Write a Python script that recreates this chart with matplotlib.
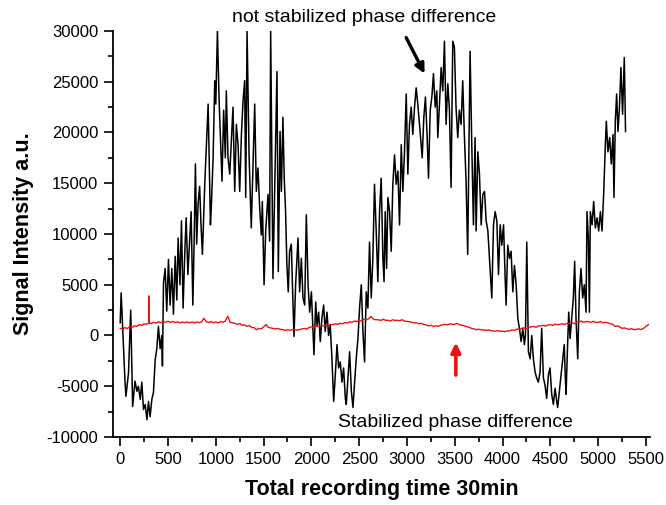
import matplotlib
matplotlib.use("Agg")
import matplotlib.pyplot as plt
from matplotlib.ticker import MultipleLocator

plt.rcParams['font.family'] = ['Liberation Sans', 'DejaVu Sans']
plt.rcParams['axes.unicode_minus'] = False

# ---- data ----
black_t = [0, 10, 50, 60, 87, 110, 130, 155, 175, 190, 210, 226, 244, 262, 280, 296, 313, 331,
           348, 366, 383, 400, 418, 435, 442, 453, 470, 487, 505, 522, 540, 557, 575, 592, 606,
           625, 641, 658, 675, 690, 708, 725, 742, 760, 775, 787, 800, 815, 831, 845, 860, 885,
           900, 920, 944, 954, 972, 989, 1000, 1017, 1035, 1048, 1065, 1082, 1100, 1110, 1128,
           1146, 1163, 1180, 1198, 1215, 1233, 1250, 1268, 1285, 1302, 1313, 1327, 1348, 1371,
           1390, 1407, 1424, 1441, 1459, 1476, 1487, 1505, 1522, 1546, 1563, 1574, 1598, 1616,
           1640, 1654, 1672, 1686, 1702, 1716, 1730, 1744, 1758, 1772, 1790, 1800, 1818, 1835,
           1860, 1877, 1895, 1912, 1930, 1947, 1965, 1982, 2000, 2017, 2027, 2045, 2059, 2076,
           2093, 2110, 2128, 2145, 2163, 2180, 2197, 2215, 2233, 2250, 2268, 2285, 2302, 2320,
           2337, 2355, 2365, 2383, 2400, 2418, 2435, 2452, 2469, 2487, 2504, 2522, 2539, 2556,
           2574, 2591, 2608, 2626, 2643, 2660, 2678, 2695, 2713, 2730, 2748, 2760, 2772, 2787,
           2800, 2818, 2835, 2852, 2870, 2887, 2905, 2922, 2940, 2957, 2974, 2992, 3009, 3026,
           3044, 3061, 3079, 3096, 3113, 3131, 3159, 3176, 3193, 3210, 3225, 3243, 3260, 3277,
           3295, 3312, 3322, 3340, 3357, 3374, 3392, 3409, 3427, 3444, 3461, 3479, 3496, 3513,
           3531, 3548, 3566, 3583, 3600, 3618, 3635, 3660, 3677, 3695, 3712, 3723, 3741, 3758,
           3776, 3793, 3811, 3828, 3846, 3863, 3887, 3905, 3922, 3940, 3957, 3975, 3992, 4010,
           4027, 4037, 4054, 4072, 4089, 4107, 4124, 4142, 4159, 4176, 4194, 4211, 4228, 4239,
           4253, 4270, 4288, 4305, 4322, 4340, 4357, 4374, 4392, 4409, 4427, 4444, 4461, 4479,
           4496, 4514, 4531, 4549, 4566, 4576, 4594, 4612, 4629, 4645, 4655, 4664, 4681, 4692,
           4706, 4723, 4740, 4754, 4768, 4786, 4803, 4820, 4838, 4855, 4873, 4883, 4897, 4908,
           4918, 4936, 4953, 4970, 4988, 5005, 5023, 5040, 5057, 5075, 5085, 5102, 5120, 5137,
           5155, 5165, 5179, 5193, 5207, 5221, 5238, 5255, 5273, 5286]
black_y = [1250, 4200, -4500, -6000, -3700, 2500, -7000, -4500, -5500, -5000, -6300, -4600,
           -7300, -6800, -8300, -6500, -8000, -6300, -5600, -2400, -1300, 900, -1300, 0, -3000,
           5200, 6600, 2400, 7500, 3000, 6600, 2100, 7800, 3500, 9600, 5000, 11300, 2700, 8000,
           11600, 6000, 9000, 12200, 3000, 10000, 16900, 9000, 13000, 14700, 11000, 8000, 15000,
           18300, 22800, 10900, 12900, 17500, 25100, 22800, 30000, 23100, 19800, 15200, 22200,
           17500, 24100, 17500, 15900, 19100, 22500, 14200, 20800, 18800, 14200, 19800, 23100,
           25100, 13600, 30000, 17800, 10600, 16900, 22800, 14200, 16500, 12600, 9900, 13200,
           5000, 10300, 13900, 9300, 30000, 5600, 14200, 26000, 6300, 20100, 14200, 21500, 15500,
           12200, 6900, 4300, 8300, 9000, 5600, -100, 5000, 9600, 4300, 7600, 3700, 3000, 11900,
           5000, 2300, 4300, 400, -1900, 3300, 1000, 2300, -600, 1700, 3000, 400, 2300, 0, 1000,
           -2300, -6500, -3900, -900, -3200, -2600, -4600, -3200, -6200, -6800, -4200, -1600,
           -5500, -7100, -4600, -2300, -300, 2700, 5000, 400, -2600, 4300, 2700, 9200, 3700,
           7600, 14900, 10300, 5300, 12200, 15500, 7600, 5300, 12200, 6600, 13600, 12200, 8300,
           14900, 17800, 14900, 16200, 10900, 18800, 14200, 18100, 23800, 15900, 20800, 22500,
           19800, 22500, 24400, 22800, 20800, 17500, 21500, 23500, 19800, 15500, 22200, 23500,
           25800, 22500, 24100, 19500, 22800, 26400, 24100, 29000, 20800, 24800, 22200, 14600,
           29000, 28400, 22500, 19500, 22200, 20800, 25100, 19800, 15200, 8000, 28000, 19100,
           10900, 19500, 10300, 18100, 15900, 10900, 13900, 14200, 11300, 10300, 7600, 3700,
           10900, 12200, 11300, 6000, 10900, 8900, 10900, 5600, 3000, 8900, 7600, 8300, 4300,
           6900, 5000, 1700, 700, -600, 700, -900, 0, 9200, -1600, -2300, 0, -2300, -3600,
           -4200, -4600, -3600, 700, -4200, -4900, -6200, -3900, -3200, -5800, -6800, -5200,
           -6500, -7100, -5500, -3900, -2300, -900, -3900, -5800, -600, 2300, -300, 1700, 3700,
           7300, 1700, -2300, 4300, 6600, 3700, 5000, 2300, 12200, 9600, 2300, 12200, 10900,
           13200, 10600, 11600, 10300, 12200, 10300, 13900, 18800, 21100, 18100, 19500, 16900,
           19800, 13600, 21100, 23800, 20100, 22200, 26400, 21800, 27400, 20100]

# red trace sampled every 25 time units (0 .. 5525)
red_t = list(range(0, 5550, 25))
red_y = [700, 620, 780, 680, 880, 800, 950, 900, 1080, 980, 1150, 1100,
         1250, 1180, 1300, 1220, 1350, 1250, 1380, 1300, 1400, 1300, 1380, 1280,
         1350, 1250, 1330, 1260, 1340, 1240, 1320, 1250, 1330, 1260, 1320, 1700,
         1350, 1280, 1380, 1250, 1330, 1240, 1380, 1300, 1420, 1900, 1300, 1250,
         1200, 1100, 1180, 1000, 1050, 900, 980, 800, 780, 570, 700, 650,
         850, 1070, 800, 750, 700, 640, 680, 600, 580, 500, 560, 520,
         550, 600, 520, 580, 650, 700, 620, 780, 850, 800, 920, 880,
         1000, 950, 1050, 980, 1100, 1060, 1150, 1100, 1200, 1150, 1280, 1220,
         1350, 1300, 1420, 1380, 1500, 1450, 1600, 1550, 1650, 1880, 1600, 1550,
         1550, 1480, 1600, 1500, 1500, 1420, 1550, 1480, 1500, 1450, 1560, 1400,
         1400, 1350, 1300, 1250, 1250, 1150, 1200, 1080, 1050, 950, 1000, 900,
         950, 900, 1000, 1050, 1100, 1050, 1150, 1100, 1100, 1200, 1050, 1000,
         950, 880, 800, 700, 650, 570, 620, 560, 550, 500, 560, 480,
         450, 420, 480, 400, 420, 380, 460, 450, 550, 500, 640, 600,
         700, 760, 650, 800, 850, 900, 800, 950, 950, 1000, 920, 1050,
         1050, 1000, 1120, 1060, 1100, 1150, 1080, 1200, 1200, 1280, 1150, 1300,
         1350, 1420, 1300, 1380, 1350, 1300, 1400, 1280, 1300, 1380, 1250, 1300,
         1250, 1180, 1100, 900, 950, 850, 700, 750, 650, 600, 680, 570,
         600, 650, 580, 700, 900, 1070]
# narrow spike in the red trace
spike_t = [298, 300, 302]
spike_y = [1250, 3900, 1250]

x_ticks = [0, 500, 1000, 1500, 2000, 2500, 3000, 3500, 4000, 4500, 5000, 5500]
y_ticks = [-10000, -5000, 0, 5000, 10000, 15000, 20000, 25000, 30000]

fig = plt.figure(figsize=(6.66, 5.05), dpi=100)
ax = fig.add_axes([0.1697, 0.1347, 0.806, 0.8039])

ax.plot(black_t, black_y, color='black', lw=1.1)
ax.plot(red_t, red_y, color='#ee1111', lw=1.0)
ax.plot(spike_t, spike_y, color='#ee1111', lw=1.0)

ax.set_xlim(-75, 5540)
ax.set_ylim(-10000, 30000)
ax.set_xticks(x_ticks)
ax.set_yticks(y_ticks)
ax.xaxis.set_minor_locator(MultipleLocator(250))
ax.yaxis.set_minor_locator(MultipleLocator(2500))
ax.tick_params(which='major', direction='out', length=6.5, width=1.2, labelsize=12, pad=4)
ax.tick_params(which='minor', direction='out', length=3.5, width=1.2)
for s in ['top', 'right']:
    ax.spines[s].set_visible(False)
for s in ['left', 'bottom']:
    ax.spines[s].set_linewidth(1.3)

ax.set_xlabel('Total recording time 30min', fontsize=15.5, fontweight='bold', labelpad=9)
ax.set_ylabel('Signal Intensity a.u.', fontsize=15.5, fontweight='bold', labelpad=9)

ax.text(2550, 30890, 'not stabilized phase difference', fontsize=14, ha='center',
        va='baseline', clip_on=False)
ax.text(2278, -9020, 'Stabilized phase difference', fontsize=14, ha='left', va='baseline')

ax.annotate('', xy=(3197, 25560), xytext=(2978, 29600), annotation_clip=False,
            arrowprops=dict(arrowstyle='-|>', color='black', lw=2.4, mutation_scale=14))
ax.annotate('', xy=(3511, -420), xytext=(3511, -4170),
            arrowprops=dict(arrowstyle='-|>', color='#ee1111', lw=2.6, mutation_scale=14))

fig.savefig('out.png', dpi=100)
